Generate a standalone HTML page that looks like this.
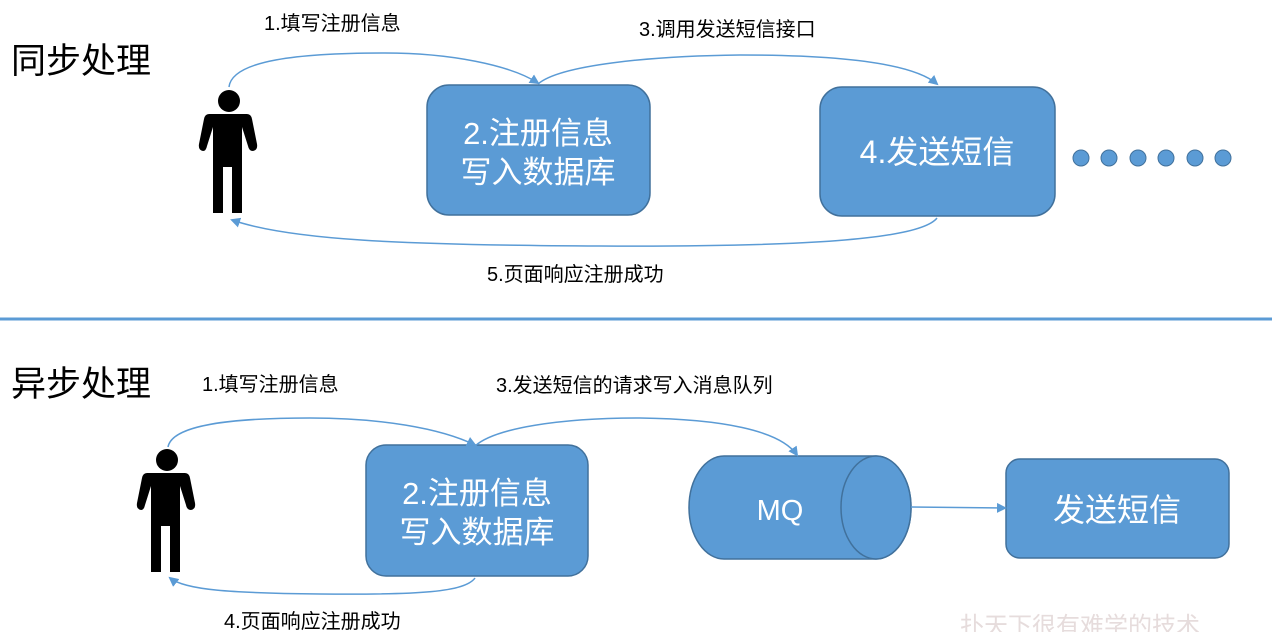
<!DOCTYPE html>
<html><head><meta charset="utf-8"><style>
html,body{margin:0;padding:0;background:#fff;width:1278px;height:632px;overflow:hidden}
svg text{font-family:"Liberation Sans","Noto Sans CJK SC",sans-serif}
</style></head><body>
<svg width="1278" height="632" viewBox="0 0 1278 632" xmlns="http://www.w3.org/2000/svg">
<defs>
<marker id="ar" markerWidth="10" markerHeight="10" refX="8" refY="5" orient="auto" markerUnits="userSpaceOnUse">
<path d="M0,0 L10,5 L0,10 z" fill="#5b9bd5"/></marker>
<g id="person">
<circle cx="0" cy="0" r="11" fill="#000"/>
<path d="M-20,13 Q-24,13 -25,18 L-30,43 Q-31,49 -26,50 Q-23,50 -22,45 L-16,26 L-16,67 L-16,112 L-6,112 L-6,66 L3,66 L3,112 L13,112 L13,67 L13,26 L19,45 Q20,50 24,50 Q29,49 28,43 L23,18 Q22,13 18,13 Z" fill="#000"/>
</g>
</defs>

<text x="11" y="73" font-size="35" fill="#000">同步处理</text>
<text x="11" y="396" font-size="35" fill="#000">异步处理</text>

<line x1="0" y1="319" x2="1272" y2="319" stroke="#5b9bd5" stroke-width="3"/>

<!-- top section -->
<use href="#person" x="229" y="101"/>
<rect x="427" y="85" width="223" height="130" rx="22" fill="#5b9bd5" stroke="#41719c" stroke-width="1.5"/>
<text x="538" y="144" font-size="31" fill="#fff" text-anchor="middle">2.注册信息</text>
<text x="538" y="183" font-size="31" fill="#fff" text-anchor="middle">写入数据库</text>
<rect x="820" y="87" width="235" height="129" rx="22" fill="#5b9bd5" stroke="#41719c" stroke-width="1.5"/>
<text x="937" y="163" font-size="32" fill="#fff" text-anchor="middle">4.发送短信</text>
<g fill="#5b9bd5" stroke="#41719c">
<circle cx="1081" cy="158" r="8"/><circle cx="1109" cy="158" r="8"/><circle cx="1138" cy="158" r="8"/>
<circle cx="1166" cy="158" r="8"/><circle cx="1195" cy="158" r="8"/><circle cx="1223" cy="158" r="8"/>
</g>
<g fill="none" stroke="#5b9bd5" stroke-width="1.5">
<path d="M229,87 C232,60 300,53 385,53 C450,53 510,65 538,83" marker-end="url(#ar)"/>
<path d="M538,84 C560,65 650,56 740,55 C850,55 915,65 937,84" marker-end="url(#ar)"/>
<path d="M937,218 C920,240 800,247 600,246 C400,245 290,240 232,220" marker-end="url(#ar)"/>
</g>
<text x="264" y="30" font-size="20" fill="#000">1.填写注册信息</text>
<text x="639" y="36" font-size="20" fill="#000">3.调用发送短信接口</text>
<text x="487" y="281" font-size="20" fill="#000">5.页面响应注册成功</text>

<!-- bottom section -->
<use href="#person" x="167" y="460"/>
<rect x="366" y="445" width="222" height="131" rx="20" fill="#5b9bd5" stroke="#41719c" stroke-width="1.5"/>
<text x="477" y="504" font-size="31" fill="#fff" text-anchor="middle">2.注册信息</text>
<text x="477" y="543" font-size="31" fill="#fff" text-anchor="middle">写入数据库</text>
<path d="M724,456 L876,456 A35,51.5 0 0 1 876,559 L724,559 A35,51.5 0 0 1 724,456 Z" fill="#5b9bd5" stroke="#41719c" stroke-width="1.5"/>
<ellipse cx="876" cy="507.5" rx="35" ry="51.5" fill="#5b9bd5" stroke="#41719c" stroke-width="1.5"/>
<text x="780" y="520" font-size="29" fill="#fff" text-anchor="middle">MQ</text>
<rect x="1006" y="459" width="223" height="99" rx="14" fill="#5b9bd5" stroke="#41719c" stroke-width="1.5"/>
<text x="1117" y="521" font-size="32" fill="#fff" text-anchor="middle">发送短信</text>
<g fill="none" stroke="#5b9bd5" stroke-width="1.5">
<path d="M911,507 L1005,508" marker-end="url(#ar)"/>
<path d="M168,447 C172,425 230,418 310,418 C380,418 440,428 475,445" marker-end="url(#ar)"/>
<path d="M475,446 C495,428 560,418 640,418 C720,419 780,430 797,455" marker-end="url(#ar)"/>
<path d="M475,578 C465,592 420,595 320,594 C230,593 185,590 170,578" marker-end="url(#ar)"/>
</g>
<text x="202" y="391" font-size="20" fill="#000">1.填写注册信息</text>
<text x="496" y="392" font-size="20" fill="#000">3.发送短信的请求写入消息队列</text>
<text x="224" y="628" font-size="20" fill="#000">4.页面响应注册成功</text>
<text x="960" y="634" font-size="24" fill="#e6dcdc">扑天下很有难学的技术</text>
</svg>
</body></html>
